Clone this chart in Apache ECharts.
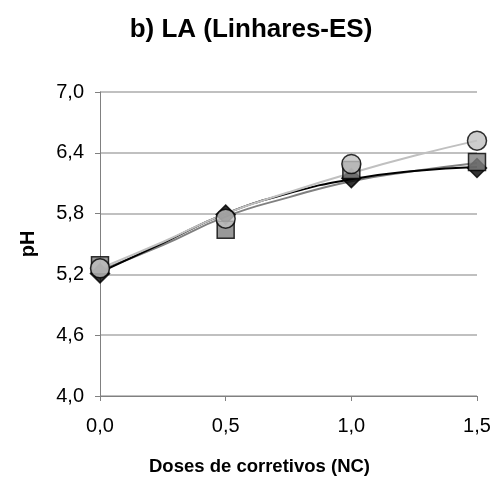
<!DOCTYPE html>
<html>
<head>
<meta charset="utf-8">
<script src="https://cdn.jsdelivr.net/npm/echarts@6/dist/echarts.min.js"></script>
<style>
  html, body { margin: 0; padding: 0; background: #fff; }
  #chart { width: 502px; height: 484px; }
</style>
</head>
<body>
<div id="chart"></div>
<script>
// doses (NC)
var doses = [0, 0.5, 1.0, 1.5];
// observed pH, one list per treatment
var phDiamond = [5.21, 5.79, 6.15, 6.25];
var phSquare = [5.29, 5.64, 6.23, 6.31];
var phCircle = [5.26, 5.75, 6.29, 6.52];

// trend lines
var trendX = [0, 0.25, 0.5, 0.75, 1.0, 1.25, 1.5];
var trendDiamond = [5.22, 5.51, 5.8, 6.0, 6.14, 6.22, 6.26];
var trendSquare = [5.24, 5.49, 5.77, 5.96, 6.12, 6.22, 6.30];
var trendCircle = [5.26, 5.52, 5.8, 6.01, 6.2, 6.37, 6.52];

function pairs(xs, ys) {
  return xs.map(function (x, i) { return [x, ys[i]]; });
}
function comma(v, d) {
  return v.toFixed(d).replace('.', ',');
}

var chart = echarts.init(document.getElementById('chart'));

function trend(data, color) {
  return {
    type: 'line',
    data: pairs(trendX, data),
    smooth: true,
    showSymbol: false,
    silent: true,
    lineStyle: { color: color, width: 2 },
    z: 2
  };
}
function marks(data, symbol, size, color) {
  return {
    type: 'scatter',
    data: pairs(doses, data),
    symbol: symbol,
    symbolSize: size,
    itemStyle: { color: color, borderColor: '#000', borderWidth: 1.5 },
    z: 3
  };
}

chart.setOption({
  animation: false,
  textStyle: { fontFamily: 'Liberation Sans, Arial, sans-serif' },
  title: {
    text: 'b) LA (Linhares-ES)',
    left: 'center',
    top: 12,
    textStyle: { fontSize: 26, fontWeight: 'bold', color: '#000' }
  },
  grid: { left: 100, right: 25, top: 92, bottom: 88 },
  xAxis: {
    type: 'value',
    min: 0,
    max: 1.5,
    interval: 0.5,
    name: 'Doses de corretivos (NC)',
    nameLocation: 'middle',
    nameGap: 61,
    // excel centres this title on the whole chart, not the plot
    nameTextStyle: { fontSize: 18.5, fontWeight: 'bold', color: '#000', padding: [0, 58, 0, 0] },
    axisLine: { lineStyle: { color: '#808080', width: 1 } },
    axisTick: { show: true, length: 5, lineStyle: { color: '#808080' } },
    axisLabel: { fontSize: 20, color: '#000', margin: 20, formatter: function (v) { return comma(v, 1); } },
    splitLine: { show: false }
  },
  yAxis: {
    type: 'value',
    min: 4.0,
    max: 7.0,
    interval: 0.6,
    name: 'pH',
    nameLocation: 'middle',
    nameGap: 62,
    nameTextStyle: { fontSize: 20, fontWeight: 'bold', color: '#000' },
    axisLine: { show: true, lineStyle: { color: '#808080', width: 1 } },
    axisTick: { show: true, length: 5, lineStyle: { color: '#808080' } },
    axisLabel: { fontSize: 20, color: '#000', margin: 16, formatter: function (v) { return comma(v, 1); } },
    splitLine: { show: true, lineStyle: { color: '#c0c0c0', width: 2 } }
  },
  series: [
    trend(trendSquare, '#808080'),
    trend(trendDiamond, '#000000'),
    trend(trendCircle, '#c0c0c0'),
    marks(phDiamond, 'diamond', 19, '#000000'),
    marks(phSquare, 'rect', 17, '#808080'),
    marks(phCircle, 'circle', 19, '#c0c0c0')
  ]
});
</script>
</body>
</html>
